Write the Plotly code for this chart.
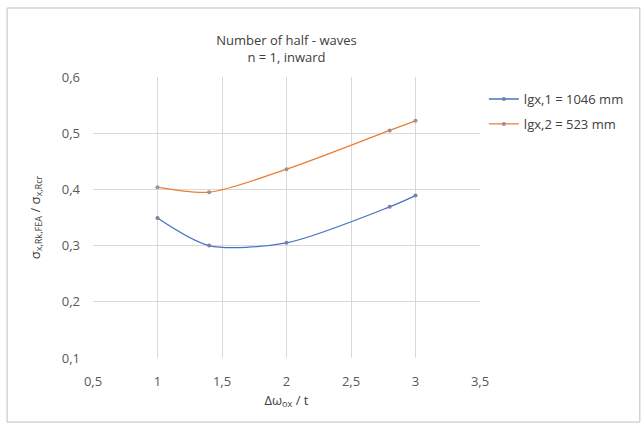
import plotly.graph_objects as go

x_vals = [1.0, 1.4, 2.0, 2.8, 3.0]
lgx1 = [0.349, 0.300, 0.305, 0.369, 0.389]
lgx2 = [0.404, 0.395, 0.436, 0.505, 0.522]
names = ["lgx,1 = 1046 mm", "lgx,2 = 523 mm"]
colors = ["#4472C4", "#ED7D31"]
marker_colors = ["#7f7f9f", "#a08f8f"]

fig = go.Figure()
for i, (ys, nm, c, mc) in enumerate(zip([lgx1, lgx2], names, colors, marker_colors)):
    fig.add_trace(go.Scatter(
        x=x_vals, y=ys, name=nm, mode="lines+markers", legendgroup=f"g{i}",
        line=dict(color=c, width=1.3, shape="spline", smoothing=0.8),
        marker=dict(size=4, color=mc),
    ))

fig.update_layout(
    width=642, height=423,
    margin=dict(l=93, r=162, t=77, b=65),
    paper_bgcolor="white", plot_bgcolor="white",
    font=dict(family="Open Sans, Calibri, Arial", size=12, color="#595959"),
    title=dict(text="Number of half - waves<br>n = 1, inward",
               x=(93 + 387 / 2) / 642, xanchor="center", y=0.894, yanchor="top",
               font=dict(size=13, color="#404040")),
    legend=dict(x=1.01, y=0.975, xanchor="left", yanchor="top",
                font=dict(size=13, color="#404040"), tracegroupgap=5,
                itemwidth=30),
    xaxis=dict(range=[0.5, 3.5], showgrid=True,
               gridcolor="#d9d9d9", zeroline=False, showline=False,
               ticks="", ticklabelstandoff=14, tickfont=dict(size=13),
               title=dict(text="Δω<sub>ox</sub> / t", font=dict(size=13, color="#404040"), standoff=6)),
    yaxis=dict(range=[0.1, 0.6], showgrid=True,
               gridcolor="#d9d9d9", zeroline=False, showline=False,
               ticks="", ticklabelstandoff=12, tickfont=dict(size=13),
               title=dict(text="σ<sub>x,Rk,FEA</sub> / σ<sub>x,Rcr</sub>",
                          font=dict(size=13, color="#404040"), standoff=18)),
    shapes=[dict(type="rect", xref="paper", yref="paper",
                 x0=-0.222, x1=1.413, y0=-0.228, y1=1.2456,
                 line=dict(color="#bfbfbf", width=1), fillcolor="rgba(0,0,0,0)", layer="below")],
)
fig.update_xaxes(tickvals=[0.5, 1, 1.5, 2, 2.5, 3, 3.5],
                 ticktext=["0,5", "1", "1,5", "2", "2,5", "3", "3,5"])
fig.update_yaxes(tickvals=[0.1, 0.2, 0.3, 0.4, 0.5, 0.6],
                 ticktext=["0,1", "0,2", "0,3", "0,4", "0,5", "0,6"])

fig.write_html("out.html")
